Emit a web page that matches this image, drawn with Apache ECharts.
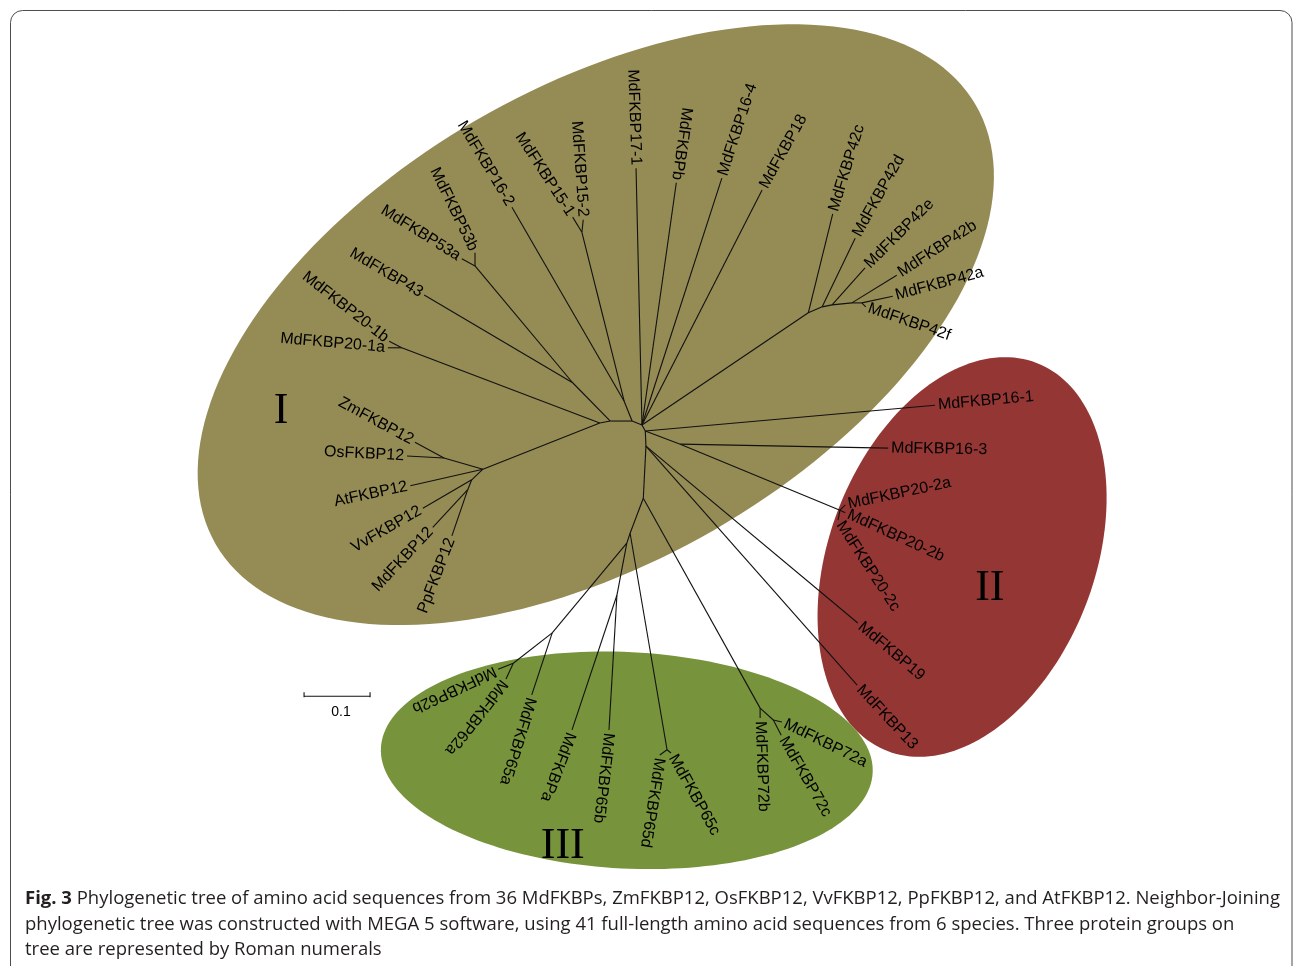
<!DOCTYPE html>
<html>
<head>
<meta charset="utf-8">
<script src="https://cdn.jsdelivr.net/npm/echarts@6/dist/echarts.min.js"></script>
<style>
  html, body { margin: 0; padding: 0; background: #ffffff; }
  #chart { width: 1293px; height: 966px; }
</style>
</head>
<body>
<div id="chart"></div>
<script>
// Unrooted Neighbor-Joining tree of FKBP proteins (MEGA 5 radial layout).
// Node coordinates are layout positions in substitutions per site.

// Internal nodes: [id, parent, x, y]
const innerNodes = [
  ['P0', 'P1', -0.061, 0.003],
  ['P1', 'P2', -0.045, 0.006],
  ['P2', 'P3', -0.012, 0.006],
  ['P3', null, 0.003, 0.000],
  ['P4', 'P3', 0.008, -0.009],
  ['P5', 'P4', 0.009, -0.032],
  ['P6', 'P5', 0.005, -0.111],
  ['P7', 'P6', -0.015, -0.164],
  ['N20_1', 'P0', -0.361, 0.117],
  ['Q12', 'P0', -0.238, -0.067],
  ['NZO', 'Q12', -0.297, -0.050],
  ['NVMP', 'Q12', -0.255, -0.083],
  ['NMP', 'NVMP', -0.261, -0.098],
  ['N43', 'P1', -0.102, 0.064],
  ['N53', 'N43', -0.250, 0.241],
  ['N15a', 'P2', -0.024, 0.036],
  ['N15', 'N15a', -0.088, 0.292],
  ['N42', 'P3', 0.255, 0.170],
  ['N42A', 'N42', 0.276, 0.179],
  ['N42B', 'N42A', 0.291, 0.182],
  ['N42C', 'N42B', 0.321, 0.185],
  ['N42D', 'N42C', 0.336, 0.185],
  ['N163', 'P4', 0.061, -0.029],
  ['N202', 'N163', 0.303, -0.129],
  ['N72', 'P6', 0.182, -0.429],
  ['N72ac', 'N72', 0.202, -0.447],
  ['N65cd', 'P7', 0.041, -0.492],
  ['NQ', 'P7', -0.020, -0.179],
  ['Na65b', 'NQ', -0.035, -0.258],
  ['N6265a', 'NQ', -0.133, -0.315],
  ['N62', 'N6265a', -0.192, -0.361]
];

// Terminal taxa: [name, parent, x, y]
const leaves = [
  ['MdFKBP20-1a', 'N20_1', -0.382, 0.117],
  ['MdFKBP20-1b', 'N20_1', -0.380, 0.127],
  ['ZmFKBP12', 'NZO', -0.341, -0.026],
  ['OsFKBP12', 'NZO', -0.353, -0.047],
  ['AtFKBP12', 'Q12', -0.348, -0.092],
  ['VvFKBP12', 'NVMP', -0.329, -0.126],
  ['MdFKBP12', 'NMP', -0.314, -0.155],
  ['PpFKBP12', 'NMP', -0.285, -0.168],
  ['MdFKBP43', 'N43', -0.327, 0.197],
  ['MdFKBP53a', 'N53', -0.270, 0.252],
  ['MdFKBP53b', 'N53', -0.250, 0.261],
  ['MdFKBP16-2', 'N15a', -0.194, 0.330],
  ['MdFKBP15-1', 'N15', -0.102, 0.315],
  ['MdFKBP15-2', 'N15', -0.086, 0.311],
  ['MdFKBP17-1', 'P3', -0.006, 0.389],
  ['MdFKBPb', 'P3', 0.055, 0.367],
  ['MdFKBP16-4', 'P3', 0.124, 0.374],
  ['MdFKBP18', 'P3', 0.185, 0.356],
  ['MdFKBP42c', 'N42', 0.292, 0.320],
  ['MdFKBP42d', 'N42A', 0.326, 0.283],
  ['MdFKBP42e', 'N42B', 0.341, 0.238],
  ['MdFKBP42b', 'N42C', 0.389, 0.227],
  ['MdFKBP42a', 'N42D', 0.383, 0.195],
  ['MdFKBP42f', 'N42D', 0.342, 0.179],
  ['MdFKBP16-1', 'P4', 0.447, 0.030],
  ['MdFKBP16-3', 'N163', 0.376, -0.035],
  ['MdFKBP20-2a', 'N202', 0.311, -0.121],
  ['MdFKBP20-2b', 'N202', 0.311, -0.133],
  ['MdFKBP20-2c', 'N202', 0.300, -0.144],
  ['MdFKBP19', 'P5', 0.330, -0.300],
  ['MdFKBP13', 'P5', 0.329, -0.394],
  ['MdFKBP72a', 'N72ac', 0.215, -0.450],
  ['MdFKBP72c', 'N72ac', 0.214, -0.470],
  ['MdFKBP72b', 'N72', 0.182, -0.444],
  ['MdFKBP65c', 'N65cd', 0.047, -0.497],
  ['MdFKBP65d', 'N65cd', 0.030, -0.500],
  ['MdFKBP65b', 'Na65b', -0.047, -0.462],
  ['MdFKBPa', 'Na65b', -0.103, -0.462],
  ['MdFKBP65a', 'N6265a', -0.164, -0.409],
  ['MdFKBP62a', 'N62', -0.203, -0.385],
  ['MdFKBP62b', 'N62', -0.215, -0.370]
];

// Reading direction of each taxon label, degrees clockwise on screen
const labelAngle = [5, 38, 28.5, 3, -12, -30, -47, -69, 30.5, 32, 64, 59, 57, 86, 88, 98,
  -72, -61, -73, -61, -45, -33, -15, 19, -5, 1, -12, 24.5, 57, 40, 47, 26, 60, 88,
  61, 99, 96.5, 111, 107, 128, 155];

// Protein groups: centre, semi-axes and tilt (degrees) of each enclosing ellipse
const groupNames = ['I', 'II', 'III'];
const groupCenter = [[-0.067, 0.152], [0.488, -0.200], [-0.020, -0.508]];
const groupAxes = [[0.665, 0.359], [0.315, 0.201], [0.373, 0.164]];
const groupTilt = [30, 69, -2.9];
const numeralPos = [[-0.544, 0.020], [0.530, -0.247], [-0.117, -0.639]];

// Scale bar: origin and length in substitutions per site
const scaleOrigin = [-0.509, -0.411];
const scaleLength = 0.1;

const captionLines = [
  'Phylogenetic tree of amino acid sequences from 36 MdFKBPs, ZmFKBP12, OsFKBP12, VvFKBP12, PpFKBP12, and AtFKBP12. Neighbor-Joining',
  'phylogenetic tree was constructed with MEGA 5 software, using 41 full-length amino acid sequences from 6 species. Three protein groups on',
  'tree are represented by Roman numerals'
];

// ---- derived tables ----
const nodePos = {};
innerNodes.forEach(n => { nodePos[n[0]] = [n[2], n[3]]; });
const edges = [];
innerNodes.forEach(n => { if (n[1]) edges.push([n[2], n[3], nodePos[n[1]][0], nodePos[n[1]][1]]); });
leaves.forEach(l => edges.push([l[2], l[3], nodePos[l[1]][0], nodePos[l[1]][1]]));

const groupColors = ['#958b55', '#943634', '#77933c'];
const labelFont = '16px "Liberation Sans", Arial, sans-serif';
const captionFont = '18.5px "Open Sans", sans-serif';

const chart = echarts.init(document.getElementById('chart'), null, { renderer: 'canvas' });

const W = 1293, H = 966, PX = 660;  // pixels per substitution
const option = {
  animation: false,
  backgroundColor: '#ffffff',
  grid: { left: 0, right: 0, top: 0, bottom: 0 },
  xAxis: { type: 'value', min: -640 / PX, max: (W - 640) / PX, show: false },
  yAxis: { type: 'value', min: (425 - H) / PX, max: 425 / PX, show: false },
  graphic: [
    {
      type: 'rect', z: 0, silent: true,
      shape: { x: 10.5, y: 10.5, width: 1281.5, height: 1000, r: 12 },
      style: { fill: 'none', stroke: '#4d4d4d', lineWidth: 1 }
    },
    {
      type: 'text', left: 25, top: 889, z: 10,
      style: {
        text: '{b|Fig. 3} ' + captionLines[0],
        font: captionFont, fill: '#231f20',
        rich: { b: { font: 'bold ' + captionFont, fill: '#231f20' } }
      }
    },
    {
      type: 'text', left: 25, top: 915, z: 10,
      style: { text: captionLines[1], font: captionFont, fill: '#231f20' }
    },
    {
      type: 'text', left: 25, top: 940, z: 10,
      style: { text: captionLines[2], font: captionFont, fill: '#231f20' }
    }
  ],
  series: [
    {
      // shaded group ellipses
      type: 'custom', name: 'groups', z: 1, silent: true,
      data: groupNames.map((g, i) => [groupCenter[i][0], groupCenter[i][1], groupAxes[i][0], groupAxes[i][1], groupTilt[i]]),
      renderItem(params, api) {
        const cx = api.value(0), cy = api.value(1), a = api.value(2), b = api.value(3);
        const t = api.value(4) * Math.PI / 180;
        const pts = [];
        for (let k = 0; k < 180; k++) {
          const s = k / 180 * Math.PI * 2;
          const ex = a * Math.cos(s), ey = b * Math.sin(s);
          pts.push(api.coord([cx + ex * Math.cos(t) - ey * Math.sin(t), cy + ex * Math.sin(t) + ey * Math.cos(t)]));
        }
        return { type: 'polygon', shape: { points: pts }, style: { fill: groupColors[params.dataIndex], stroke: null } };
      }
    },
    {
      // group numerals
      type: 'custom', name: 'numerals', z: 2, silent: true,
      data: numeralPos,
      renderItem(params, api) {
        const p = api.coord([api.value(0), api.value(1)]);
        return {
          type: 'text', x: p[0], y: p[1],
          style: { text: groupNames[params.dataIndex], align: 'center', verticalAlign: 'middle',
                   font: '44px "Liberation Serif", "Times New Roman", serif', fill: '#000000' }
        };
      }
    },
    {
      // branches
      type: 'custom', name: 'branches', z: 3, silent: true,
      data: edges,
      renderItem(params, api) {
        const p = api.coord([api.value(0), api.value(1)]);
        const q = api.coord([api.value(2), api.value(3)]);
        return { type: 'line', shape: { x1: p[0], y1: p[1], x2: q[0], y2: q[1] },
                 style: { stroke: '#111111', lineWidth: 1.1 } };
      }
    },
    {
      // taxon labels
      type: 'custom', name: 'taxa', z: 4, silent: true,
      data: leaves.map(l => [l[2], l[3]]),
      renderItem(params, api) {
        const i = params.dataIndex;
        const leaf = leaves[i];
        const p = api.coord([api.value(0), api.value(1)]);
        const q = api.coord(nodePos[leaf[1]]);
        const th = labelAngle[i] * Math.PI / 180;
        const dx = Math.cos(th), dy = Math.sin(th);
        const inward = (q[0] - p[0]) * dx + (q[1] - p[1]) * dy > 0;
        const gap = 3, sg = inward ? -1 : 1;
        return {
          type: 'text', x: p[0] + sg * gap * dx, y: p[1] + sg * gap * dy, rotation: -th,
          style: { text: leaf[0], align: inward ? 'right' : 'left', verticalAlign: 'middle',
                   font: labelFont, fill: '#000000' }
        };
      }
    },
    {
      // scale bar
      type: 'custom', name: 'scale', z: 4, silent: true,
      data: [[scaleOrigin[0], scaleOrigin[1], scaleLength]],
      renderItem(params, api) {
        const a = api.coord([api.value(0), api.value(1)]);
        const b = api.coord([api.value(0) + api.value(2), api.value(1)]);
        const st = { stroke: '#111111', lineWidth: 1.1 };
        return {
          type: 'group', children: [
            { type: 'line', shape: { x1: a[0], y1: a[1], x2: b[0], y2: b[1] }, style: st },
            { type: 'line', shape: { x1: a[0], y1: a[1] - 4, x2: a[0], y2: a[1] + 1 }, style: st },
            { type: 'line', shape: { x1: b[0], y1: b[1] - 4, x2: b[0], y2: b[1] + 1 }, style: st },
            { type: 'text', x: (a[0] + b[0]) / 2 + 4, y: a[1] + 16,
              style: { text: String(api.value(2)), align: 'center', verticalAlign: 'middle',
                       font: '14px "Liberation Sans", Arial, sans-serif', fill: '#000000' } }
          ]
        };
      }
    }
  ]
};
chart.setOption(option);
</script>
</body>
</html>
